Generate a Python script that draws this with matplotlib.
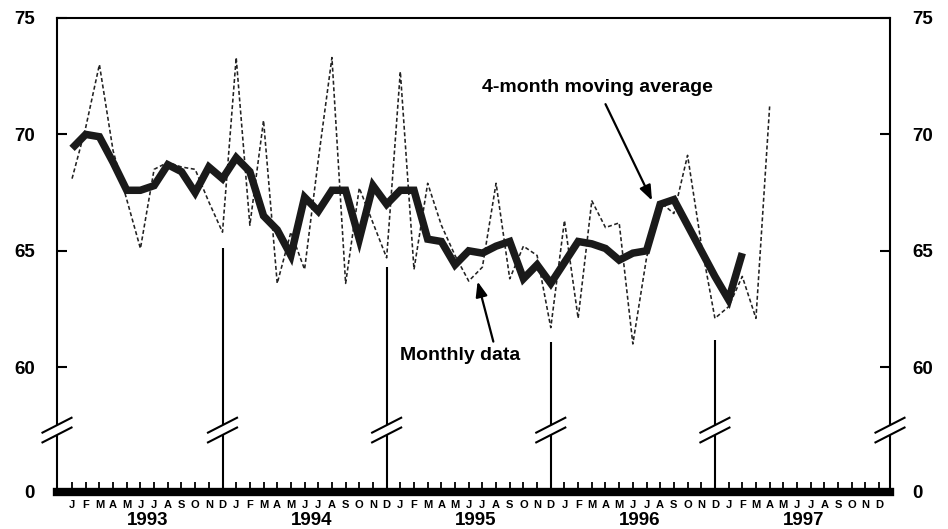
import matplotlib
matplotlib.use('Agg')
import matplotlib.pyplot as plt
import matplotlib.transforms as mtransforms
import numpy as np

plt.rcParams['font.family'] = ['Liberation Sans', 'DejaVu Sans']
plt.rcParams['font.weight'] = 'bold'

### data (Jan 1993 = month 0) ###
monthly = [68.1, 70.3, 73.0, 69.3, 67.2, 65.1, 68.5, 68.8, 68.6, 68.5, 67.1, 65.8,
           73.3, 66.1, 70.6, 63.6, 65.8, 64.2, 68.9, 73.3, 63.6, 67.7, 66.2, 64.7,
           72.7, 64.2, 67.9, 66.1, 64.8, 63.7, 64.3, 67.9, 63.8, 65.2, 64.8, 61.7,
           66.3, 62.1, 67.15, 66.0, 66.2, 61.0, 64.7, 67.1, 66.6, 69.1, 65.3, 62.1,
           62.6, 63.9, 62.1, 71.2]
moving_avg = [69.4, 70.0, 69.9, 68.8, 67.6, 67.6, 67.8, 68.7, 68.4, 67.5, 68.6, 68.1,
              69.0, 68.4, 66.5, 65.9, 64.8, 67.3, 66.7, 67.6, 67.6, 65.5, 67.8, 67.0,
              67.6, 67.6, 65.5, 65.4, 64.4, 65.0, 64.9, 65.2, 65.4, 63.8, 64.4, 63.6,
              64.5, 65.4, 65.3, 65.1, 64.6, 64.9, 65.0, 67.0, 67.2, 66.1, 65.0, 63.9,
              62.9, 64.9]
years = ['1993', '1994', '1995', '1996', '1997']
month_letters = ['J', 'F', 'M', 'A', 'M', 'J', 'J', 'A', 'S', 'O', 'N', 'D']
divider_tops = [65.1, 64.3, 61.1, 61.15]   # height of the year separators
ytick_vals = [60, 65, 70, 75]

### axis setting ###
ybot = 54.64      # value drawn as "0" (broken axis)
ybreak = 57.3
xmin, xmax = -1.1, 59.8

fig = plt.figure(figsize=(9.48, 5.29), dpi=100)
ax = fig.add_axes([57/948., 1-492/529., (890-57)/948., (492-18)/529.])

nmonth = len(years)*12
xm = np.arange(nmonth)

ax.plot(np.arange(len(monthly)), monthly, color='#222222', lw=1.15,
        linestyle=(0, (2.5, 1.6)), zorder=3)
ax.plot(np.arange(len(moving_avg)), moving_avg, color='#1a1a1a', lw=5.4,
        solid_joinstyle='miter', solid_capstyle='butt', zorder=4)

# year separators
for k, top in enumerate(divider_tops):
    ax.vlines(11 + 12*k, ybot, top, color='black', lw=1.5, zorder=2)

ax.set_xlim(xmin, xmax)
ax.set_ylim(ybot, 75)

for s in ['left', 'right', 'top']:
    ax.spines[s].set_linewidth(1.5)
ax.spines['bottom'].set_linewidth(6)

ax.set_xticks(xm)
ax.set_xticklabels(month_letters*len(years), fontsize=8, fontweight='bold')
ax.tick_params(axis='x', direction='in', length=7, width=1.3, pad=6)

ax.set_yticks([ybot] + ytick_vals)
ax.set_yticklabels(['0'] + [str(v) for v in ytick_vals], fontsize=13.5, fontweight='bold')
ax.tick_params(axis='y', direction='in', length=7.5, width=1.5, pad=16,
               left=True, right=True, labelleft=True, labelright=True)

# year labels
trans = mtransforms.blended_transform_factory(ax.transData, ax.transAxes)
for k, yr in enumerate(years):
    ax.text(5.5 + 12*k, -0.06, yr, transform=trans, ha='center', va='center',
            fontsize=13.5, fontweight='bold')

# axis break marks
def draw_break(x):
    dx, dy, gap = 1.13, 0.34, 0.21
    ax.fill([x-dx, x+dx, x+dx, x-dx],
            [ybreak-gap-dy, ybreak-gap+dy, ybreak+gap+dy, ybreak+gap-dy],
            color='white', zorder=5, clip_on=False, lw=0)
    for c in (ybreak-gap, ybreak+gap):
        ax.plot([x-dx, x+dx], [c-dy, c+dy], color='black', lw=1.5,
                zorder=6, clip_on=False, solid_capstyle='butt')

for xb in [xmin, 11, 23, 35, 47, xmax]:
    draw_break(xb)

# annotations
ax.text(38.4, 72.0, '4-month moving average', ha='center', va='center',
        fontsize=14, fontweight='bold')
ax.annotate('', xy=(42.4, 67.16), xytext=(39.0, 71.3),
            arrowprops=dict(arrowstyle='-|>,head_length=0.9,head_width=0.35',
                            lw=1.6, color='black', shrinkA=0, shrinkB=0), zorder=6)
ax.text(28.4, 60.5, 'Monthly data', ha='center', va='center',
        fontsize=14, fontweight='bold')
ax.annotate('', xy=(29.65, 63.68), xytext=(30.8, 61.1),
            arrowprops=dict(arrowstyle='-|>,head_length=0.9,head_width=0.35',
                            lw=1.6, color='black', shrinkA=0, shrinkB=0), zorder=6)

fig.savefig('out.png', dpi=100)
